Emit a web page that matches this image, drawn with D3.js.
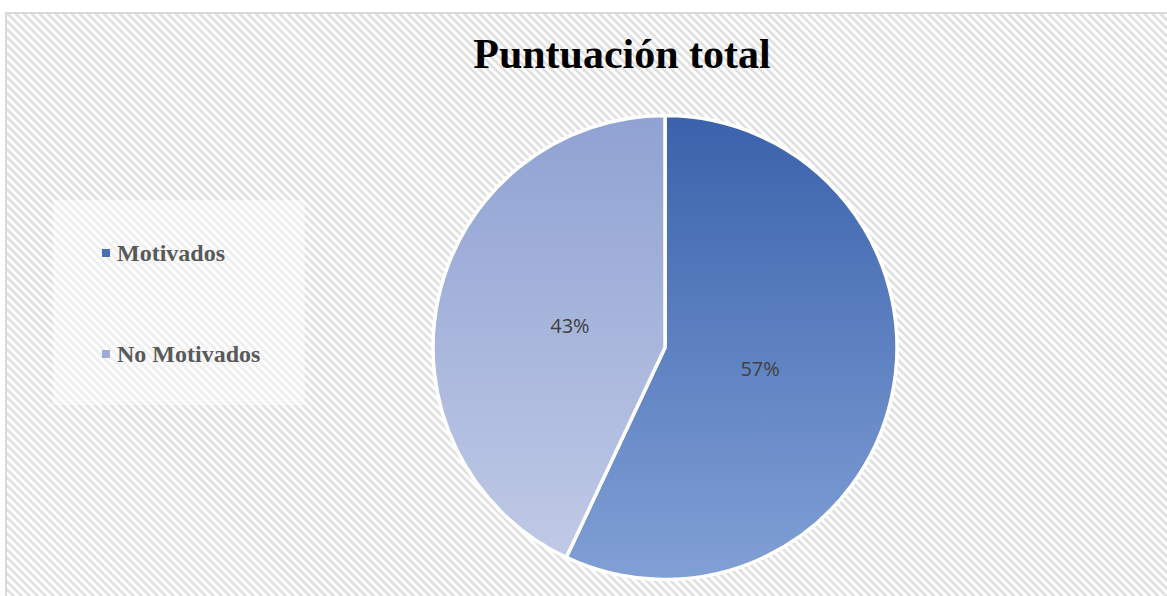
<!DOCTYPE html>
<html>
<head>
<meta charset="utf-8">
<script src="https://cdn.jsdelivr.net/npm/d3@7"></script>
<style>
  body { margin: 0; background: #fff; }
  svg { display: block; }
</style>
</head>
<body>
<div id="chart"></div>
<script>
// data
var categories = ["Motivados", "No Motivados"];
var values = [57, 43];
var labels = ["57%", "43%"];
var title = "Puntuación total";

var W = 1167, H = 596;
var svg = d3.select("#chart").append("svg").attr("width", W).attr("height", H);
var defs = svg.append("defs");

// diagonal striped background
var pat = defs.append("pattern")
  .attr("id", "stripes")
  .attr("patternUnits", "userSpaceOnUse")
  .attr("width", 5.66).attr("height", 5.66)
  .attr("patternTransform", "rotate(-45)");
pat.append("rect").attr("width", 5.66).attr("height", 5.66).attr("fill", "#fff");
pat.append("rect").attr("width", 2.7).attr("height", 5.66).attr("fill", "#e0e0e0");

var grads = [["#3a62ab", "#81a0d6"], ["#90a2d3", "#c0cae6"]];
grads.forEach(function(g, i) {
  var lg = defs.append("linearGradient").attr("id", "g" + i)
    .attr("x1", 0).attr("y1", 0).attr("x2", 0).attr("y2", 1);
  lg.append("stop").attr("offset", "0%").attr("stop-color", g[0]);
  lg.append("stop").attr("offset", "100%").attr("stop-color", g[1]);
});

svg.append("rect")
  .attr("x", 6).attr("y", 13).attr("width", W + 10).attr("height", H)
  .attr("fill", "url(#stripes)")
  .attr("stroke", "#d9d9d9").attr("stroke-width", 2);

// title
svg.append("text")
  .attr("x", 622).attr("y", 68)
  .attr("text-anchor", "middle")
  .attr("font-family", "'Liberation Serif', 'Times New Roman', serif")
  .attr("font-weight", "bold").attr("font-size", 42)
  .attr("fill", "#000")
  .text(title);

// pie
var cx = 665, cy = 347.5, r = 232;
var pie = d3.pie().sort(null).value(function(d) { return d; });
var arc = d3.arc().innerRadius(0).outerRadius(r);
var arcs = pie(values);

var g = svg.append("g").attr("transform", "translate(" + cx + "," + cy + ")");
g.selectAll("path.slice").data(arcs).enter().append("path")
  .attr("class", "slice")
  .attr("d", arc)
  .attr("fill", function(d, i) { return "url(#g" + i + ")"; })
  .attr("stroke", "#fff").attr("stroke-width", 3.5)
  .attr("stroke-linejoin", "round");

var labelArc = d3.arc().innerRadius(r * 0.42).outerRadius(r * 0.42);
g.selectAll("text.lbl").data(arcs).enter().append("text")
  .attr("class", "lbl")
  .attr("transform", function(d) {
    var c = labelArc.centroid(d);
    return "translate(" + c[0] + "," + c[1] + ")";
  })
  .attr("dy", "0.35em")
  .attr("text-anchor", "middle")
  .attr("font-family", "'Open Sans', 'Liberation Sans', sans-serif")
  .attr("font-size", 20)
  .attr("fill", "#404040")
  .text(function(d, i) { return labels[i]; });

// legend
var legendColors = ["#4a6fb5", "#9eadd8"];
var leg = svg.append("g");
leg.append("rect")
  .attr("x", 53).attr("y", 200).attr("width", 252).attr("height", 205)
  .attr("fill", "#fff").attr("fill-opacity", 0.45);

var y = d3.scalePoint().domain(categories).range([253, 354]);
var item = leg.selectAll("g.item").data(categories).enter().append("g")
  .attr("class", "item")
  .attr("transform", function(d) { return "translate(0," + y(d) + ")"; });
item.append("rect")
  .attr("x", 102).attr("y", -4).attr("width", 8).attr("height", 8)
  .attr("fill", function(d, i) { return legendColors[i]; });
item.append("text")
  .attr("x", 117).attr("y", 8)
  .attr("font-family", "'Liberation Serif', 'Times New Roman', serif")
  .attr("font-weight", "bold").attr("font-size", 24)
  .attr("fill", "#595959")
  .text(function(d) { return d; });
</script>
</body>
</html>
